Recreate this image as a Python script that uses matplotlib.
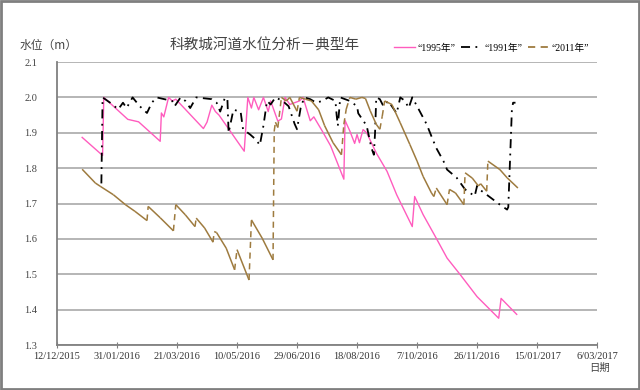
import numpy as np
import matplotlib
matplotlib.use('Agg')
import matplotlib.pyplot as plt
from matplotlib.collections import LineCollection
from matplotlib.patches import Rectangle

plt.rcParams['font.family'] = ['Noto Sans CJK SC', 'DejaVu Sans']

# 日期 = 自 2015-12-12 起的天数
tick_days = [0, 50, 100, 150, 200, 250, 300, 350, 400, 450]
tick_labels = ['12/12/2015', '31/01/2016', '21/03/2016', '10/05/2016', '29/06/2016',
               '18/08/2016', '7/10/2016', '26/11/2016', '15/01/2017', '6/03/2017']

# 1995年
d1995 = [21, 38, 39, 59, 68, 86, 87, 89, 93, 96, 99, 122, 125, 129, 132, 135, 156, 159, 162, 164,
         168, 172, 176, 178, 184, 187, 190, 194, 202, 205, 211, 214, 221, 228, 239, 240, 244, 248,
         250, 252, 255, 258, 266, 275, 283, 296, 298, 305, 316, 325, 336, 350, 368, 370, 383]
v1995 = [1.887, 1.836, 2.0, 1.938, 1.931, 1.876, 1.956, 1.945, 2.0, 1.99, 1.995, 1.912, 1.93, 1.978,
         1.96, 1.95, 1.848, 2.0, 1.97, 2.0, 1.965, 2.0, 1.96, 1.99, 1.933, 1.939, 2.0, 1.98, 1.99,
         2.0, 1.934, 1.945, 1.905, 1.863, 1.769, 1.935, 1.905, 1.87, 1.895, 1.872, 1.909, 1.9,
         1.843, 1.791, 1.725, 1.635, 1.72, 1.669, 1.602, 1.546, 1.499, 1.437, 1.376, 1.432, 1.387]

# 1991年
d1991 = [37, 38, 46, 51, 55, 58, 63, 69, 75, 79, 83, 96, 98, 103, 107, 111, 116, 129, 133, 136,
         140, 142, 143, 147, 153, 155, 161, 166, 169, 172, 175, 178, 182, 188, 193, 198, 200, 203,
         206, 211, 216, 221, 226, 232, 233, 234, 236, 240, 244, 250, 251, 255, 258, 262, 264, 265,
         266, 269, 272, 276, 280, 283, 286, 290, 293, 296, 300, 308, 312, 316, 322, 325, 333, 340,
         348, 350, 352, 360, 369, 375, 376, 379, 380, 382]
v1991 = [1.757, 2.0, 1.981, 1.966, 1.985, 1.97, 2.0, 1.975, 1.956, 1.985, 2.0, 1.99, 1.975, 2.0,
         1.99, 1.97, 2.0, 1.995, 1.985, 1.96, 2.0, 1.995, 1.9, 1.965, 1.96, 1.91, 1.895, 1.88, 1.865,
         1.92, 1.99, 1.98, 2.0, 1.99, 1.975, 1.925, 1.91, 1.97, 2.0, 1.995, 1.985, 1.99, 2.0, 1.99,
         1.95, 1.92, 2.0, 1.995, 1.99, 1.975, 1.955, 1.935, 1.92, 1.857, 1.838, 1.9, 2.0, 1.995,
         1.975, 1.99, 1.97, 1.955, 2.0, 1.99, 1.97, 2.0, 1.975, 1.924, 1.89, 1.857, 1.82, 1.796,
         1.773, 1.74, 1.721, 1.75, 1.74, 1.72, 1.697, 1.683, 1.69, 1.966, 1.985, 1.985]

# 2011年
d2011 = [21, 32, 36, 47, 57, 65, 75, 76, 86, 97, 99, 107, 115, 116, 123, 130, 131, 133, 141, 148,
         150, 160, 162, 171, 180, 181, 182, 184, 187, 191, 194, 200, 202, 207, 212, 218, 223, 230,
         237, 239, 241, 244, 249, 254, 257, 261, 266, 269, 271, 273, 279, 286, 294, 300, 305, 312,
         314, 316, 325, 327, 332, 339, 340, 346, 351, 353, 358, 359, 369, 375, 384]
v2011 = [1.797, 1.758, 1.749, 1.725, 1.697, 1.678, 1.652, 1.692, 1.66, 1.623, 1.697, 1.668, 1.635,
         1.659, 1.631, 1.591, 1.621, 1.618, 1.574, 1.513, 1.57, 1.484, 1.654, 1.602, 1.541, 1.905,
         1.93, 1.915, 2.0, 1.99, 2.0, 1.961, 2.0, 1.995, 1.99, 1.965, 1.92, 1.872, 1.838, 1.924,
         1.967, 2.0, 1.995, 2.0, 1.997, 1.962, 1.924, 1.91, 1.947, 1.99, 1.98, 1.928, 1.867, 1.82,
         1.777, 1.73, 1.72, 1.744, 1.697, 1.74, 1.73, 1.697, 1.787, 1.772, 1.75, 1.756, 1.735, 1.82,
         1.796, 1.773, 1.744]

pink = '#FF5CBE'
brown = '#9E7B3F'
grid_c = '#B0B0B0'

fig = plt.figure(figsize=(6.4, 3.9), dpi=100)
fig.patches.append(Rectangle((0.002, 0.003), 0.996, 0.994, transform=fig.transFigure,
                             fill=False, edgecolor='#7F7F7F', linewidth=2))
ax = fig.add_axes([0.089, 0.115, 0.844, 0.726])

ax.set_xlim(0, 450)
ax.set_ylim(1.3, 2.1)
ax.set_yticks(np.arange(1.3, 2.101, 0.1))
ax.set_yticklabels(['%.1f' % y for y in np.arange(1.3, 2.101, 0.1)],
                   family='Liberation Serif', fontsize=7.5, color='#444444')
ax.set_xticks(tick_days)
ax.set_xticklabels(tick_labels, family='Liberation Serif', fontsize=7.5, color='#333333')
ax.grid(axis='y', color=grid_c, linewidth=1.3)
ax.set_axisbelow(True)
for s in ['top', 'right']:
    ax.spines[s].set_visible(False)
for s in ['left', 'bottom']:
    ax.spines[s].set_color('#808080')
    ax.spines[s].set_linewidth(1.3)
ax.tick_params(axis='y', length=0, pad=14)
ax.tick_params(axis='x', direction='inout', length=4, color='#808080', pad=3)

# 1995
ax.plot(d1995, v1995, color=pink, linewidth=1.0, label='\u201c1995年\u201d')
# 1991
ax.plot(d1991, v1991, color='black', linewidth=1.3, linestyle=(0, (5, 3, 1, 3)),
        label='\u201c1991年\u201d')
# 2011: 下降段实线, 补水段虚线
segs = [[(d2011[i], v2011[i]), (d2011[i + 1], v2011[i + 1])] for i in range(len(d2011) - 1)]
up = [v2011[i + 1] > v2011[i] + 0.02 for i in range(len(d2011) - 1)]
ax.add_collection(LineCollection([s for s, u in zip(segs, up) if not u], colors=brown, linewidths=1.1))
ax.add_collection(LineCollection([s for s, u in zip(segs, up) if u], colors=brown, linewidths=1.1,
                                 linestyles=(0, (4, 3))))
ax.plot([], [], color=brown, linewidth=1.3, linestyle=(0, (4, 3)), label='\u201c2011年\u201d')

leg = fig.legend(loc='center', bbox_to_anchor=(0.768, 0.877), ncol=3, fontsize=7,
                 frameon=True, facecolor='white', edgecolor='none', framealpha=1,
                 handlelength=2.2, handletextpad=0.2, columnspacing=0.6, borderpad=0.8,
                 prop={'family': ['Liberation Serif', 'Noto Sans CJK SC'], 'size': 7})

fig.text(0.414, 0.884, '科教城河道水位分析－典型年', fontsize=10.5, ha='center', va='center',
         color='#444444')
fig.text(0.03, 0.884, '水位（m）', fontsize=8.5, ha='left', va='center', color='#444444')
fig.text(0.921, 0.057, '日期', fontsize=7.5, ha='left', va='center', color='#444444')

fig.savefig('out.png', dpi=100)
